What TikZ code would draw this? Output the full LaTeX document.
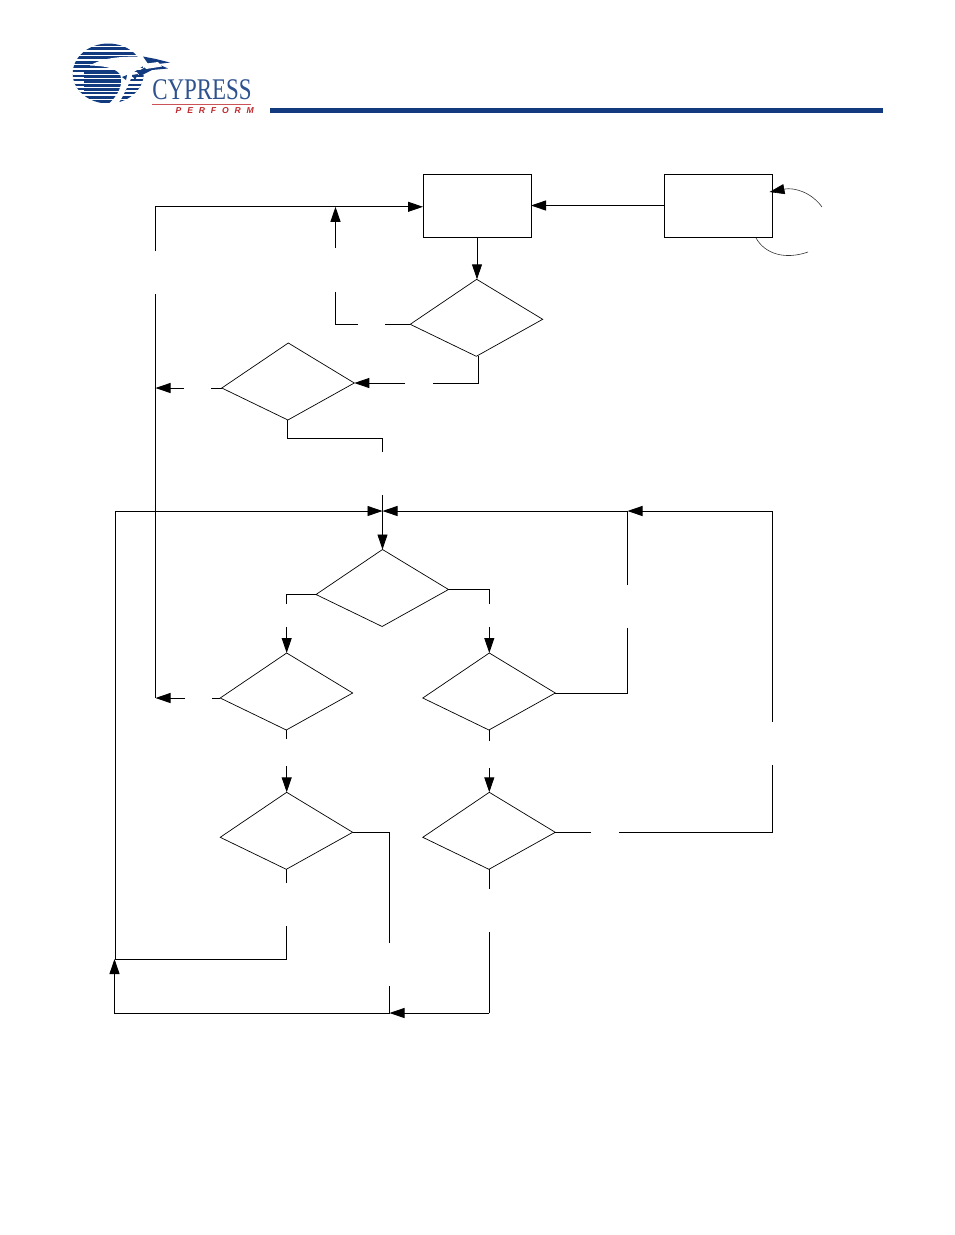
\documentclass[tikz,border=0pt]{standalone}
\usepackage{fontspec}
\usepackage{tikz}
\usetikzlibrary{positioning,arrows.meta,shapes.geometric,calc}
\newfontfamily\brandfont{Liberation Serif}
\newfontfamily\taglinefont[LetterSpace=68]{Liberation Sans}
\definecolor{cypressblue}{RGB}{18,58,126}
\definecolor{cypressred}{RGB}{190,40,45}
\tikzset{
  process-node/.style={draw=black, line width=0.9pt, minimum width=108pt, minimum height=63pt,
    inner sep=0pt, outer sep=0pt},
  decision-shape/.pic={
    \coordinate (-north) at (0,0);
    \coordinate (-east) at (66,40);
    \coordinate (-south) at (-0.4,77);
    \coordinate (-west) at (-66.5,45);
    \draw[draw=black, line width=0.7pt] (-north) -- (-east) -- (-south) -- (-west) -- cycle;
  },
  flow-line/.style={draw=black, line width=0.9pt},
  flow-arrow/.style={flow-line, -{Triangle[length=15pt,width=10pt]}},
  note-curve/.style={draw=black!80, line width=0.6pt},
  brand-text/.style={font=\brandfont\fontsize{30}{30}\selectfont, color=cypressblue!88!white, inner sep=0pt},
  tagline-text/.style={font=\taglinefont\bfseries\itshape\fontsize{8.6}{8.6}\selectfont, color=cypressred, inner sep=0pt}
}
\begin{document}
\begin{tikzpicture}[x=1pt,y=-1pt]
\useasboundingbox (0,0) rectangle (954,1235);
% logo
\begin{scope}
\clip (108.2,73.5) ellipse (35.5 and 30);
\fill[cypressblue] (84,70) rectangle (126,92);
\foreach \ystripe in {43,47.4,...,104}
  \fill[cypressblue] (70,\ystripe) rectangle (146,\ystripe+3);
\foreach \ystripe in {69.4,73.8,...,92}
  \fill[white] (70,\ystripe) rectangle (146,\ystripe+1);
\end{scope}
\fill[white] (90,65.5) .. controls (100,59) and (118,55.5) .. (145,57) -- (146,64) -- (134,72)
  .. controls (130,80) and (126,92) .. (118,104) -- (108,104.5) .. controls (118,96) and (124,84) .. (120,74)
  .. controls (114,67) and (102,66) .. cycle;
\fill[cypressblue] (143,56.5) -- (156,59) -- (170,62.5) -- (158,64) -- (168,68.5) -- (152,70) -- (140,76) -- (137,72) -- (149,65) -- cycle;
\fill[white] (143,64) -- (158,62) -- (162,66.5) -- (146,69) -- cycle;
\fill[cypressblue] (122,77) -- (127,75) -- (126,80) -- cycle;
\fill[cypressblue] (132,75) -- (138,74) -- (135,80) -- cycle;
\node[brand-text] (brandname) at (202,90) {\scalebox{.765}[1]{CYPRESS}};
\draw[cypressred!80!white, line width=0.6pt] (152,104) -- (251,104);
\node[tagline-text, anchor=east] (tagline) at (254,111) {PERFORM};
\fill[cypressblue] (269.5,108) rectangle (883,113);
% boxes
\node[process-node] (pbox) at (477,205.5) {};
\node[process-node] (qbox) at (718,205.5) {};
% diamonds
\pic (dtop) at (476.7,279.3) {decision-shape};
\pic (dleft) at (288.3,343) {decision-shape};
\pic (dmid) at (382.5,549.5) {decision-shape};
\pic (dfour) at (286.7,653) {decision-shape};
\pic (dfive) at (489.3,653) {decision-shape};
\pic (dsix) at (286.7,792.3) {decision-shape};
\pic (dseven) at (489.3,792.3) {decision-shape};
% free ends at the label gaps
\coordinate (a1) at (155.5,251);
\coordinate (a2) at (155.5,294);
\coordinate (a3) at (155.5,698);
\coordinate (b1) at (335.5,248);
\coordinate (b2) at (335.5,292);
\coordinate (b3) at (358,324.3);
\coordinate (b4) at (385,324.3);
\coordinate (c1) at (478.5,356);
\coordinate (c2) at (433,383);
\coordinate (c3) at (405,383);
\coordinate (e2) at (211,388);
\coordinate (e3) at (184,388);
\coordinate (e4) at (155.5,388);
\coordinate (f1) at (382.5,452);
\coordinate (f2) at (382.5,495);
\coordinate (g1) at (382.5,511);
\coordinate (g2) at (627.5,511);
\coordinate (g3) at (772.5,511);
\coordinate (g4) at (627.5,585);
\coordinate (g5) at (627.5,628);
\coordinate (g6) at (772.5,722);
\coordinate (g7) at (772.5,765);
\coordinate (g8) at (619,832.3);
\coordinate (g9) at (591,832.3);
\coordinate (h1) at (286.7,604);
\coordinate (h2) at (286.7,627);
\coordinate (h3) at (489.3,604);
\coordinate (h4) at (489.3,627);
\coordinate (i1) at (212,698);
\coordinate (i2) at (185,698);
\coordinate (j1) at (286.7,739);
\coordinate (j2) at (286.7,766);
\coordinate (j3) at (489.3,741);
\coordinate (j4) at (489.3,768);
\coordinate (k1) at (286.7,883);
\coordinate (k2) at (286.7,926);
\coordinate (k3) at (115.5,959.5);
\coordinate (l1) at (489.3,889);
\coordinate (l2) at (489.3,932);
\coordinate (l3) at (389.5,1013);
\coordinate (l4) at (489.3,1013);
\coordinate (m1) at (389.5,943);
\coordinate (m2) at (389.5,986);
\coordinate (m3) at (114.5,1013);
\coordinate (m4) at (114.5,959);
\coordinate (n1) at (115.5,511);
\coordinate (n2) at (423,206.8);
% connectors
\draw[flow-arrow] (qbox.west) -- (pbox.east);
\draw[flow-arrow] (pbox.south) -- (pbox.south |- dtop-north);
\draw[flow-arrow] (a1) |- (n2);
\draw[flow-line] (a2) -- (a3);
\draw[flow-arrow] (b1) -- (b1 |- n2);
\draw[flow-line] (b2) |- (b3);
\draw[flow-line] (b4) -- (dtop-west |- b4);
\draw[flow-line] (c1) |- (c2);
\draw[flow-arrow] (c3) -- (dleft-east |- c3);
\draw[flow-line] (dleft-west) -- (e2);
\draw[flow-arrow] (e3) -- (e4);
\draw[flow-line] (dleft-south) -- ++(0,18.5) -| (f1);
\draw[flow-arrow] (f2) -- (dmid-north);
\draw[flow-arrow] (k3) -- (n1) -- (g1);
\draw[flow-arrow] (g2) -- (g1);
\draw[flow-arrow] (g3) -- (g2);
\draw[flow-line] (g4) -- (g2);
\draw[flow-line] (g5) |- (dfive-east);
\draw[flow-line] (g3) -- (g6);
\draw[flow-line] (g7) |- (g8);
\draw[flow-line] (g9) -- (dseven-east);
\draw[flow-line] (dmid-west) -| (h1);
\draw[flow-arrow] (h2) -- (dfour-north);
\draw[flow-line] (dmid-east) -| (h3);
\draw[flow-arrow] (h4) -- (dfive-north);
\draw[flow-line] (dfour-west) -- (i1);
\draw[flow-arrow] (i2) -- (a3);
\draw[flow-line] (dfour-south -| j1) -- (j1);
\draw[flow-arrow] (j2) -- (dsix-north);
\draw[flow-line] (dfive-south -| j3) -- (j3);
\draw[flow-arrow] (j4) -- (dseven-north);
\draw[flow-line] (dsix-east) -| (m1);
\draw[flow-line] (m2) -- (l3);
\draw[flow-line] (dsix-south -| k1) -- (k1);
\draw[flow-line] (k2) |- (k3);
\draw[flow-line] (dseven-south -| l1) -- (l1);
\draw[flow-line] (l2) -- (l4);
\draw[flow-arrow] (l4) -- (l3);
\draw[flow-arrow] (l3) -- (m3) -- (m4);
% curved notes on the right
\coordinate (r1) at (822,207);
\coordinate (r2) at (769.5,192);
\coordinate (r3) at (756,238);
\coordinate (r4) at (808,252);
\draw[note-curve, -{Triangle[length=15pt,width=10pt,color=black,fill=black]}] (r1) .. controls (812,193) and (795,187) .. (r2);
\draw[note-curve] (r3) .. controls (765,254) and (785,260) .. (r4);
\end{tikzpicture}
\end{document}
